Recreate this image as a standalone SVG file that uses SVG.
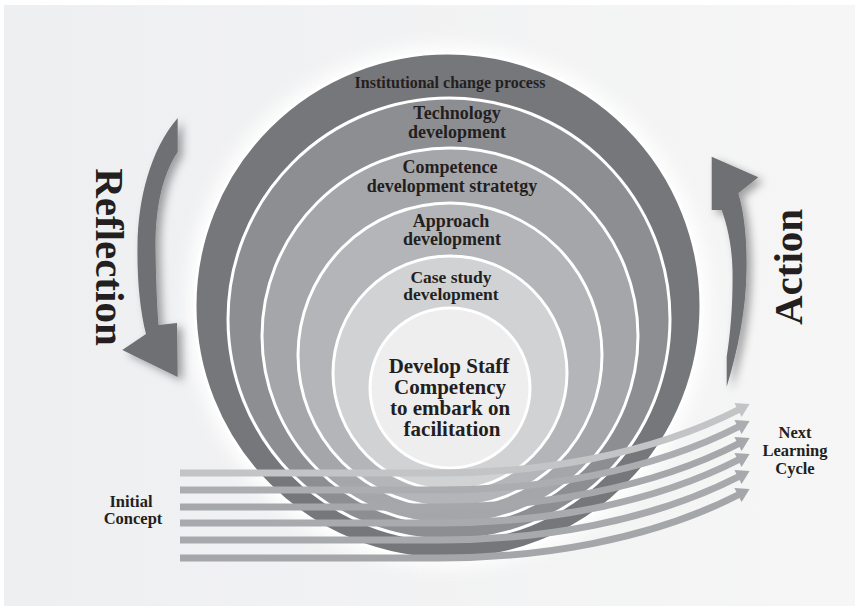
<svg xmlns="http://www.w3.org/2000/svg" width="855" height="606" viewBox="0 0 855 606">
  <defs>
    <style>
      .t { font-family: "Liberation Serif", "Times New Roman", serif; font-weight: bold; fill: #231f20; text-anchor: middle; }
      .ring { stroke: #ffffff; stroke-width: 3; }
      .bigarrow { fill: #6e6f73; }
    </style>
    <linearGradient id="bg" x1="0" y1="0" x2="1" y2="0">
      <stop offset="0" stop-color="#eeeff1"/>
      <stop offset="1" stop-color="#f6f6f6"/>
    </linearGradient>
    <filter id="glow" x="-20%" y="-20%" width="140%" height="140%">
      <feGaussianBlur stdDeviation="8"/>
    </filter>
    <filter id="shadow" x="-60%" y="-20%" width="220%" height="140%">
      <feDropShadow dx="5" dy="4" stdDeviation="4" flood-color="#000000" flood-opacity="0.35"/>
    </filter>
    <g id="la">
      <path d="M180,0 H440 C540,0 650,-18 739,-63.5" fill="none" stroke="currentColor" stroke-width="7"/>
      <polygon points="749.6,-68.9 741.6,-55.9 734.4,-70.1" fill="currentColor"/>
    </g>
  </defs>

  <g id="background">
    <rect x="0" y="0" width="855" height="606" fill="#ffffff"/>
    <rect x="4" y="5" width="851" height="601" fill="url(#bg)"/>
  </g>

  <g id="halo">
    <circle cx="448" cy="306" r="262" fill="#ffffff" opacity="0.9" filter="url(#glow)"/>
  </g>

  <g id="ring-institutional">
    <circle class="ring" cx="448" cy="306" r="253" fill="#76777b"/>
    <text class="t" x="450" y="88" font-size="16">Institutional change process</text>
  </g>
  <g id="ring-technology">
    <circle class="ring" cx="449" cy="319" r="221" fill="#8d8e92"/>
    <text class="t" x="457" y="119" font-size="18">Technology</text>
    <text class="t" x="457" y="138" font-size="18">development</text>
  </g>
  <g id="ring-competence">
    <circle class="ring" cx="450" cy="336" r="188" fill="#a5a6aa"/>
    <text class="t" x="450" y="173" font-size="18">Competence</text>
    <text class="t" x="452" y="192" font-size="18">development stratetgy</text>
  </g>
  <g id="ring-approach">
    <circle class="ring" cx="450" cy="355" r="152" fill="#b4b5b8"/>
    <text class="t" x="451" y="227" font-size="18">Approach</text>
    <text class="t" x="452" y="245" font-size="18">development</text>
  </g>
  <g id="ring-casestudy">
    <circle class="ring" cx="450" cy="373" r="117" fill="#d1d2d4"/>
    <text class="t" x="451" y="283" font-size="17.5">Case study</text>
    <text class="t" x="451" y="300" font-size="17.5">development</text>
  </g>
  <g id="core">
    <circle class="ring" cx="450" cy="388" r="80" fill="#eeeeef"/>
    <text class="t" x="449" y="373" font-size="21">Develop Staff</text>
    <text class="t" x="450" y="394" font-size="21">Competency</text>
    <text class="t" x="450" y="415" font-size="21">to embark on</text>
    <text class="t" x="452" y="436" font-size="21">facilitation</text>
  </g>

  <g id="reflection">
    <path class="bigarrow" filter="url(#shadow)" d="M177.7,118 L177.7,152 C162,175 155,210 155.5,250 C156,280 157,305 158.5,325 L177,323 L177.7,377 L122.3,350 L146,334 C140,310 137,280 137.5,245 C138,200 150,150 177.7,118 Z"/>
    <text class="t" font-size="41" transform="translate(95.5,257) rotate(90)">Reflection</text>
  </g>

  <g id="action">
    <path class="bigarrow" filter="url(#shadow)" d="M726.7,386.7 L726.7,357 C731,330 733,300 732.5,270 C732,245 727,225 721.7,210 L711.7,210 L711.7,156.7 L758.3,177.3 L738.3,193.3 C745,215 747,245 746.5,270 C746,310 738,350 726.7,386.7 Z"/>
    <text class="t" font-size="41" transform="translate(802,267) rotate(-90)">Action</text>
  </g>

  <g id="connectors">
    <use href="#la" transform="translate(0,473)" style="color:#c3c4c6"/>
    <use href="#la" transform="translate(0,490)" style="color:#acadb0"/>
    <use href="#la" transform="translate(0,507)" style="color:#a6a7aa"/>
    <use href="#la" transform="translate(0,523)" style="color:#a9aaad"/>
    <use href="#la" transform="translate(0,540)" style="color:#a8a9ac"/>
    <use href="#la" transform="translate(0,558)" style="color:#a5a6a9"/>
  </g>

  <g id="label-initial">
    <text class="t" x="131" y="507" font-size="16.5">Initial</text>
    <text class="t" x="133" y="524" font-size="16.5">Concept</text>
  </g>
  <g id="label-next">
    <text class="t" x="795" y="438" font-size="16.5">Next</text>
    <text class="t" x="795" y="456" font-size="16.5">Learning</text>
    <text class="t" x="795" y="474" font-size="16.5">Cycle</text>
  </g>
</svg>
